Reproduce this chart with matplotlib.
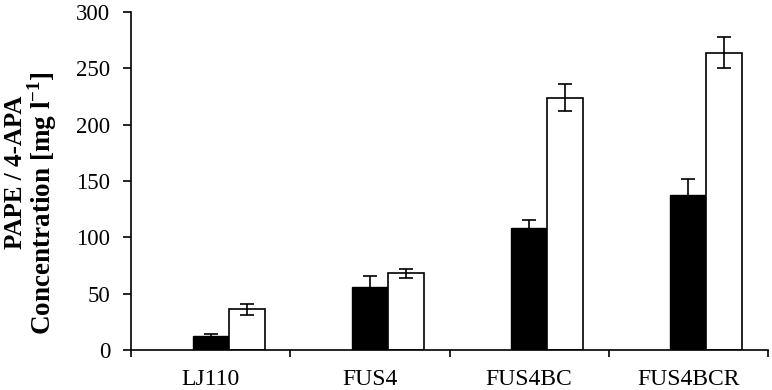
import numpy as np
import matplotlib.pyplot as plt

plt.rcParams['font.family'] = ['Liberation Serif', 'DejaVu Serif']
plt.rcParams['mathtext.fontset'] = 'custom'
plt.rcParams['mathtext.rm'] = 'Liberation Serif'
plt.rcParams['mathtext.bf'] = 'Liberation Serif:bold'

# data
strains = ['LJ110', 'FUS4', 'FUS4BC', 'FUS4BCR']
pape = [12.5, 56, 108, 138]
pape_err = [1.5, 10, 7, 14]
apa = [36, 68, 224, 264]
apa_err = [5, 4, 12, 14]

fig = plt.figure(figsize=(7.72, 3.9), dpi=100)
ax = fig.add_axes([0.1697, 0.1026, 0.8253, 0.8666])

x = np.arange(len(strains)) + 0.5
w = 0.226

ax.bar(x, pape, w, color='black', edgecolor='black', linewidth=1, zorder=2)
ax.bar(x + w, apa, w, color='white', edgecolor='black', linewidth=1.2, zorder=2)
ax.errorbar(x, pape, yerr=pape_err, fmt='none', ecolor='black',
            elinewidth=1.2, capsize=5, capthick=1.2, zorder=3)
ax.errorbar(x + w, apa, yerr=apa_err, fmt='none', ecolor='black',
            elinewidth=1.2, capsize=5, capthick=1.2, zorder=3)

ax.set_xlim(0, len(strains))
ax.set_ylim(0, 300)
ax.set_yticks(np.arange(0, 301, 50))
ax.set_xticks(np.arange(len(strains) + 1))
ax.set_xticklabels([])
ax.set_xticks(x, minor=True)
ax.set_xticklabels(strains, minor=True)
ax.tick_params(axis='x', which='minor', length=0, pad=14, labelsize=17)
ax.tick_params(axis='x', which='major', length=5, width=1.2, direction='out')
ax.tick_params(axis='y', length=6, width=1.2, direction='out', labelsize=16.5, pad=9)

for s in ['top', 'right']:
    ax.spines[s].set_visible(False)
for s in ['left', 'bottom']:
    ax.spines[s].set_linewidth(1.2)

# two-line y label, lines placed separately as in the reference
fig.text(0.02, 0.559, 'PAPE / 4-APA', rotation=90, ha='center', va='center',
         fontsize=18, fontweight='bold')
fig.text(0.054, 0.479, 'Concentration [mg l$^{\\mathbf{-1}}$]', rotation=90,
         ha='center', va='center', fontsize=19.5, fontweight='bold')

fig.savefig('out.png', dpi=100)
